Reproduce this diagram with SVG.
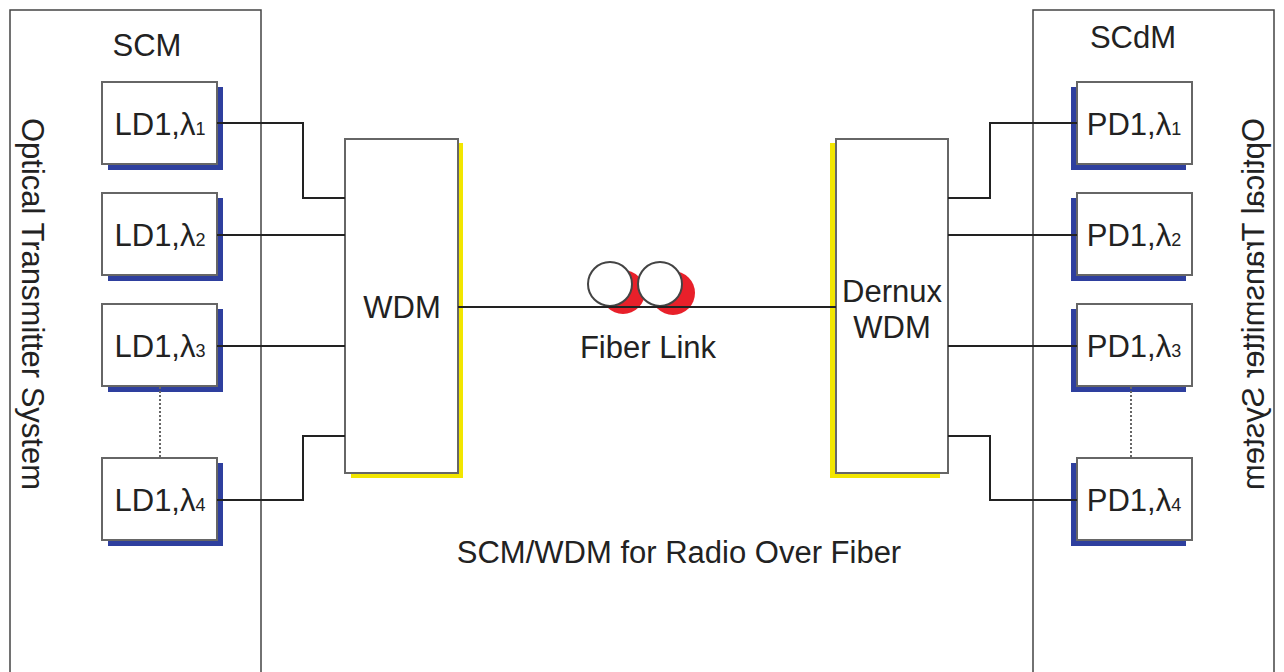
<svg xmlns="http://www.w3.org/2000/svg" width="1284" height="672" viewBox="0 0 1284 672">
<style>
text{font-family:"Liberation Sans",Arial,sans-serif;fill:#222;font-size:31px}
.t{text-anchor:middle}
.sub{font-size:18px}
.frame{fill:none;stroke:#444;stroke-width:1.5}
.box{fill:#fff;stroke:#666;stroke-width:2}
.blue{fill:#2e3f9e}
.yel{fill:#f2e600}
.wire{fill:none;stroke:#222;stroke-width:2}
.dot{stroke:#666;stroke-width:2;stroke-dasharray:2 2}
</style>
<g id="left-system">
<path class="frame" d="M10,672 V10 H261 V672"/>
<text class="t" x="147" y="56">SCM</text>
<text class="t" transform="translate(22,304) rotate(90)">Optical Transmitter System</text>
</g>
<g id="right-system">
<path class="frame" d="M1033,672 V10 H1274 V672"/>
<text class="t" x="1133" y="48">SCdM</text>
<text class="t" transform="translate(1264,304) scale(-1,1) rotate(90)">Optical Transmitter System</text>
</g>
<g id="LD1"><rect class="blue" x="108" y="87" width="115" height="83"/><rect class="box" x="102" y="82" width="115" height="82"/><text class="t" x="160" y="135">LD1,λ<tspan class="sub">1</tspan></text></g>
<g id="LD2"><rect class="blue" x="108" y="198" width="115" height="83"/><rect class="box" x="102" y="193" width="115" height="82"/><text class="t" x="160" y="246">LD1,λ<tspan class="sub">2</tspan></text></g>
<g id="LD3"><rect class="blue" x="108" y="309" width="115" height="83"/><rect class="box" x="102" y="304" width="115" height="82"/><text class="t" x="160" y="357">LD1,λ<tspan class="sub">3</tspan></text></g>
<g id="LD4"><rect class="blue" x="108" y="463" width="115" height="83"/><rect class="box" x="102" y="458" width="115" height="82"/><text class="t" x="160" y="511">LD1,λ<tspan class="sub">4</tspan></text></g>
<g id="PD1"><rect class="blue" x="1071" y="87" width="115" height="83"/><rect class="box" x="1077" y="82" width="115" height="82"/><text class="t" x="1134" y="135">PD1,λ<tspan class="sub">1</tspan></text></g>
<g id="PD2"><rect class="blue" x="1071" y="198" width="115" height="83"/><rect class="box" x="1077" y="193" width="115" height="82"/><text class="t" x="1134" y="246">PD1,λ<tspan class="sub">2</tspan></text></g>
<g id="PD3"><rect class="blue" x="1071" y="309" width="115" height="83"/><rect class="box" x="1077" y="304" width="115" height="82"/><text class="t" x="1134" y="357">PD1,λ<tspan class="sub">3</tspan></text></g>
<g id="PD4"><rect class="blue" x="1071" y="463" width="115" height="83"/><rect class="box" x="1077" y="458" width="115" height="82"/><text class="t" x="1134" y="511">PD1,λ<tspan class="sub">4</tspan></text></g>
<g id="WDM"><rect class="yel" x="351" y="143" width="112" height="335"/><rect class="box" x="345" y="139" width="113" height="334"/><text class="t" x="402" y="318">WDM</text></g>
<g id="DemuxWDM"><rect class="yel" x="830" y="143" width="110" height="335"/><rect class="box" x="836" y="139" width="112" height="334"/><text class="t" x="892" y="302">Dernux</text><text class="t" x="892" y="338">WDM</text></g>
<g id="connectors">
<path class="wire" d="M217,123 H303 V198 H345"/>
<path class="wire" d="M217,235 H345"/>
<path class="wire" d="M217,346 H345"/>
<path class="wire" d="M217,500 H303 V436 H345"/>
<path class="wire" d="M948,198 H990 V123 H1077"/>
<path class="wire" d="M948,235 H1077"/>
<path class="wire" d="M948,346 H1077"/>
<path class="wire" d="M948,436 H990 V500 H1077"/>
<line class="dot" x1="160" y1="387" x2="160" y2="458"/>
<line class="dot" x1="1131" y1="387" x2="1131" y2="458"/>
</g>
<g id="fiber-link">
<circle cx="623" cy="292" r="22" fill="#e8202a"/>
<circle cx="673" cy="293" r="22" fill="#e8202a"/>
<circle cx="610" cy="284" r="22" fill="#fff" stroke="#444" stroke-width="2"/>
<circle cx="660" cy="284" r="22" fill="#fff" stroke="#444" stroke-width="2"/>
<line class="wire" x1="458" y1="307" x2="836" y2="307"/>
<text class="t" x="648" y="358">Fiber Link</text>
</g>
<text class="t" x="679" y="563">SCM/WDM for Radio Over Fiber</text>
</svg>
